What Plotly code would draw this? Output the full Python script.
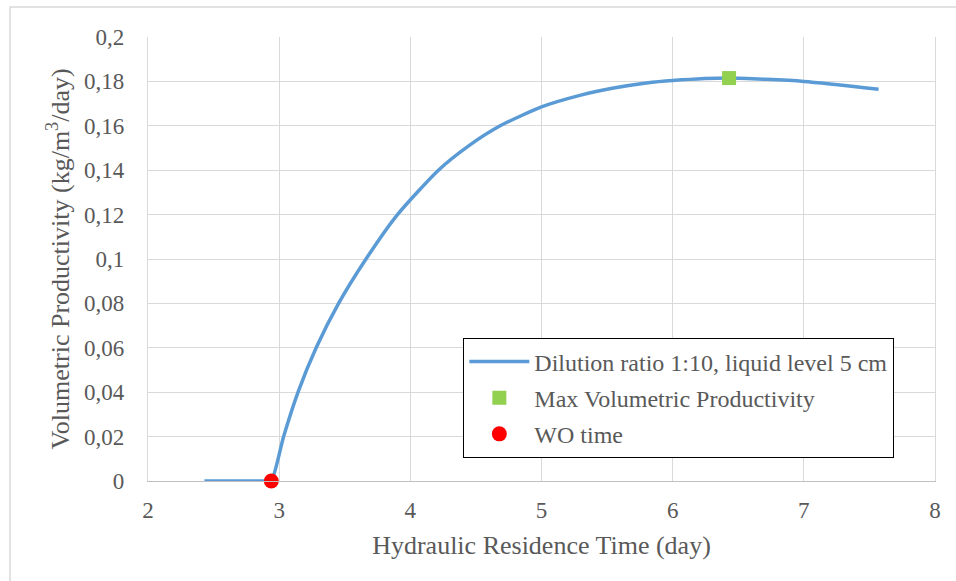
import plotly.graph_objects as go

# Data
hrt_days = [2.43, 2.90, 2.94, 3.034, 3.144, 3.282, 3.453, 3.662, 3.902, 4.214, 4.45, 4.685, 5.00, 5.30, 5.55, 5.80, 6.00, 6.43, 7.00, 7.57]
vol_prod = [0.0, 0.0, 0.0, 0.020, 0.040, 0.060, 0.080, 0.100, 0.120, 0.140, 0.1512, 0.160, 0.1685, 0.1738, 0.1770, 0.1793, 0.1804, 0.1815, 0.1800, 0.1765]

max_x = [6.43]
max_y = [0.1815]

wo_x = [2.94]
wo_y = [0.0]

y_tick_vals = [0, 0.02, 0.04, 0.06, 0.08, 0.10, 0.12, 0.14, 0.16, 0.18, 0.20]
y_tick_text = ["0", "0,02", "0,04", "0,06", "0,08", "0,1", "0,12", "0,14", "0,16", "0,18", "0,2"]
x_tick_vals = [2, 3, 4, 5, 6, 7, 8]

FONT = "Liberation Serif, Times New Roman, serif"
TXT = "#595959"

fig = go.Figure()
fig.add_trace(go.Scatter(
    x=hrt_days, y=vol_prod, mode="lines",
    line=dict(color="#5B9BD5", width=3.5, shape="spline", smoothing=0.6),
    name="Dilution ratio 1:10, liquid level 5 cm", legendgroup="a"))
fig.add_trace(go.Scatter(
    x=max_x, y=max_y, mode="markers",
    marker=dict(symbol="square", color="#92D050", size=14),
    name="Max Volumetric Productivity", legendgroup="b"))
fig.add_trace(go.Scatter(
    x=wo_x, y=wo_y, mode="markers",
    marker=dict(symbol="circle", color="#FF0000", size=15),
    name="WO time", legendgroup="c", cliponaxis=False))

fig.update_layout(
    width=956, height=581,
    margin=dict(l=148, r=21, t=37, b=100),
    paper_bgcolor="white", plot_bgcolor="white",
    font=dict(family=FONT, color=TXT, size=23),
    showlegend=True,
    legend=dict(
        x=0.4003, y=0.322, xanchor="left", yanchor="top",
        bgcolor="white", bordercolor="black", borderwidth=1.3,
        font=dict(family=FONT, size=24, color=TXT),
        tracegroupgap=2, traceorder="grouped",
        itemwidth=60,
    ),
    xaxis=dict(
        range=[2, 8], tickvals=x_tick_vals,
        showgrid=True, gridcolor="#D9D9D9", gridwidth=1.3,
        showline=True, linecolor="#BFBFBF", linewidth=1.3,
        zeroline=False, ticks="", ticklabelstandoff=8,
        tickfont=dict(size=23, color=TXT, family=FONT),
        title=dict(text="Hydraulic Residence Time (day)", standoff=14,
                   font=dict(size=26, color=TXT, family=FONT)),
    ),
    yaxis=dict(
        range=[0, 0.2], tickvals=y_tick_vals, ticktext=y_tick_text,
        showgrid=True, gridcolor="#D9D9D9", gridwidth=1.3,
        showline=True, linecolor="#D9D9D9", linewidth=1.3, mirror=True,
        zeroline=False, ticks="", ticklabelstandoff=18,
        tickfont=dict(size=23, color=TXT, family=FONT),
        title=dict(text="Volumetric Productivity (kg/m<sup>3</sup>/day)", standoff=6,
                   font=dict(size=26, color=TXT, family=FONT)),
    ),
    shapes=[dict(type="rect", xref="paper", yref="paper",
                 x0=-0.1753, x1=1.1, y0=-0.3, y1=1.0676,
                 line=dict(color="#D9D9D9", width=1.5), fillcolor="rgba(0,0,0,0)",
                 layer="below")],
)

fig.write_html("out.html")
